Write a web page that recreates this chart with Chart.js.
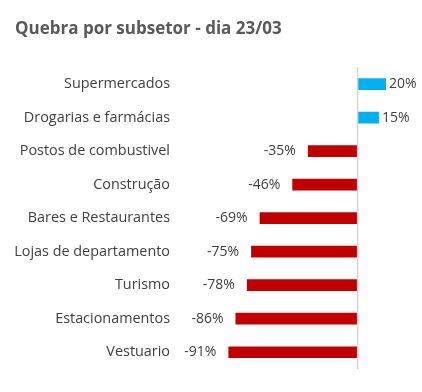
<!DOCTYPE html>
<html>
<head>
<meta charset="utf-8">
<script src="https://cdn.jsdelivr.net/npm/chart.js@4"></script>
<style>
  html, body { margin: 0; padding: 0; background: #fff; }
  #wrap { width: 422px; height: 392px; }
</style>
</head>
<body>
<div id="wrap"><canvas id="chart" width="422" height="392"></canvas></div>
<script>
// Dados (quebra % por subsetor, dia 23/03)
const CATEGORIES = [
  'Supermercados', 'Drogarias e farmácias', 'Postos de combustivel', 'Construção',
  'Bares e Restaurantes', 'Lojas de departamento', 'Turismo', 'Estacionamentos', 'Vestuario'
];
const VALUES = [20, 15, -35, -46, -69, -75, -78, -86, -91];

const COLORS = { pos: '#00b0f0', neg: '#c00000', text: '#404040', title: '#595959', axis: '#d4d4d4' };
const FONT = '"Open Sans", "Noto Sans", sans-serif';

// Linha vertical no zero + rótulos de valor ao lado de cada barra
const zeroAndLabels = {
  id: 'zeroAndLabels',
  afterDatasetsDraw(chart) {
    const { ctx, chartArea, scales } = chart;
    const x0 = scales.x.getPixelForValue(0);
    ctx.save();
    ctx.strokeStyle = COLORS.axis;
    ctx.lineWidth = 1.5;
    ctx.beginPath();
    ctx.moveTo(x0, chartArea.top);
    ctx.lineTo(x0, chartArea.bottom);
    ctx.stroke();

    ctx.font = '14px ' + FONT;
    ctx.fillStyle = COLORS.text;
    ctx.textBaseline = 'middle';
    chart.getDatasetMeta(0).data.forEach((bar, i) => {
      const v = VALUES[i];
      const label = v + '%';
      if (v >= 0) {
        ctx.textAlign = 'left';
        ctx.fillText(label, bar.x + 3, bar.y);
      } else {
        ctx.textAlign = 'right';
        ctx.fillText(label, bar.x - 12, bar.y);
      }
    });
    ctx.restore();
  }
};

new Chart(document.getElementById('chart'), {
  type: 'bar',
  data: {
    labels: CATEGORIES,
    datasets: [{
      data: VALUES,
      backgroundColor: VALUES.map(v => v >= 0 ? COLORS.pos : COLORS.neg),
      barPercentage: 0.7,
      categoryPercentage: 0.5,
      borderWidth: 0
    }]
  },
  options: {
    indexAxis: 'y',
    responsive: false,
    animation: false,
    layout: { padding: { left: 15, right: 9, top: 0, bottom: 23 } },
    plugins: {
      legend: { display: false },
      tooltip: { enabled: false },
      title: {
        display: true,
        text: 'Quebra por subsetor - dia 23/03',
        align: 'start',
        color: COLORS.title,
        font: { family: FONT, size: 17, weight: 'bold', lineHeight: 1.2 },
        padding: { top: 19, bottom: 28 }
      }
    },
    scales: {
      x: { display: false, min: -130, max: 39 },
      y: {
        afterFit: s => { s.width = 158; },
        grid: { display: false, drawTicks: false },
        border: { display: false },
        ticks: { color: COLORS.text, font: { family: FONT, size: 14.4 }, padding: 3 }
      }
    }
  },
  plugins: [zeroAndLabels]
});
</script>
</body>
</html>
